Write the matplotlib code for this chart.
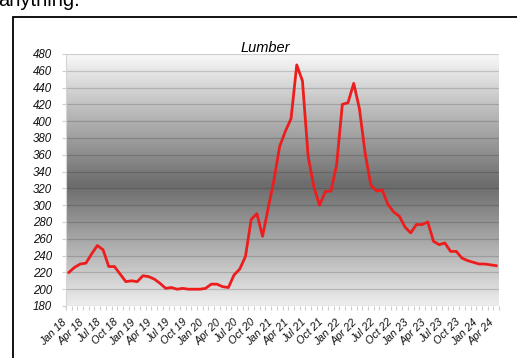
import matplotlib
matplotlib.use('Agg')
import matplotlib.pyplot as plt
from matplotlib.colors import LinearSegmentedColormap
from matplotlib.patches import Rectangle
from matplotlib.transforms import ScaledTranslation
import numpy as np

# monthly lumber price, Jan 2018 - Apr 2024
months = []
for yr in range(18, 25):
    for m in ['Jan', 'Feb', 'Mar', 'Apr', 'May', 'Jun', 'Jul', 'Aug', 'Sep', 'Oct', 'Nov', 'Dec']:
        months.append(m + ' ' + str(yr))
months = months[:76]

price = [220, 226, 230, 231, 242, 252, 247, 227, 227, 218, 209, 210,
         209, 216, 215, 212, 207, 201, 202, 200, 201, 200, 200, 200,
         201, 206, 206, 203, 202, 217, 224, 239, 283, 290, 263, 297,
         330, 370, 388, 403, 467, 448, 358, 322, 300, 316, 317, 348,
         420, 422, 445, 415, 362, 324, 317, 318, 301, 292, 287, 274,
         267, 277, 277, 280, 257, 253, 255, 245, 245, 237, 234, 232,
         230, 230, 229, 228]

yticks = list(range(180, 481, 20))

W, H = 517, 358
fig = plt.figure(figsize=(W / 100, H / 100), dpi=100)
fig.patch.set_facecolor('white')

# text above the chart box, mostly cut off
fig.text(-2 / W, 1 - 6.5 / H, 'anything.', fontsize=14.5, family='Liberation Sans',
         color='black', ha='left', va='baseline')

# chart box border
fig.patches.append(Rectangle((13 / W, -0.1), 1.2, 1 - 17 / H + 0.1, transform=fig.transFigure,
                             fill=False, edgecolor='black', linewidth=1.3))

ax = fig.add_axes([66 / W, 1 - 306 / H, (499 - 66) / W, (306 - 54) / H])

shade = LinearSegmentedColormap.from_list('shade', [(0, '#f8f8f8'), (0.52, '#6c6c6c'), (1, '#eeeeee')])
grad = np.linspace(0, 1, 256).reshape(-1, 1)
ax.imshow(grad, cmap=shade, aspect='auto', extent=(0, 1, 0, 1), transform=ax.transAxes, zorder=0)

x = np.arange(len(price))
ax.plot(x, price, color='#ee1d1d', linewidth=2.0, zorder=3, solid_joinstyle='round')

ax.set_xlim(-0.5, len(price) - 0.5)
ax.set_ylim(180, 480)
ax.set_yticks(yticks)
for v in yticks:
    ax.axhline(v, color='black', alpha=0.16, linewidth=0.9, zorder=1)

ax.set_xticks(x[::3])
ax.set_xticklabels(months[::3], rotation=45, ha='right', rotation_mode='anchor')
ax.set_xticks(np.arange(-0.5, len(price), 1), minor=True)
ax.tick_params(axis='x', which='major', length=0, pad=8)
ax.tick_params(axis='x', which='minor', length=3, color='#cccccc', width=0.8)
ax.tick_params(axis='y', length=3, color='#cccccc', width=0.8, pad=7)

shift = ScaledTranslation(-7 / 100, 0, fig.dpi_scale_trans)
for lab in ax.get_xticklabels():
    lab.set_transform(lab.get_transform() + shift)
    lab.set_fontsize(7.8)
for lab in ax.get_yticklabels():
    lab.set_fontsize(8.3)
for lab in ax.get_xticklabels() + ax.get_yticklabels():
    lab.set_family('Liberation Sans')
    lab.set_style('italic')
    lab.set_color('#111111')

for s in ['top', 'right', 'bottom']:
    ax.spines[s].set_visible(False)
ax.spines['left'].set_color('#d4d4d4')
ax.spines['left'].set_linewidth(0.8)

fig.text(265 / W, 1 - 51.5 / H, 'Lumber', fontsize=10.5, family='Liberation Sans',
         style='italic', ha='center', va='baseline', color='black')

fig.savefig('out.png', dpi=100)
